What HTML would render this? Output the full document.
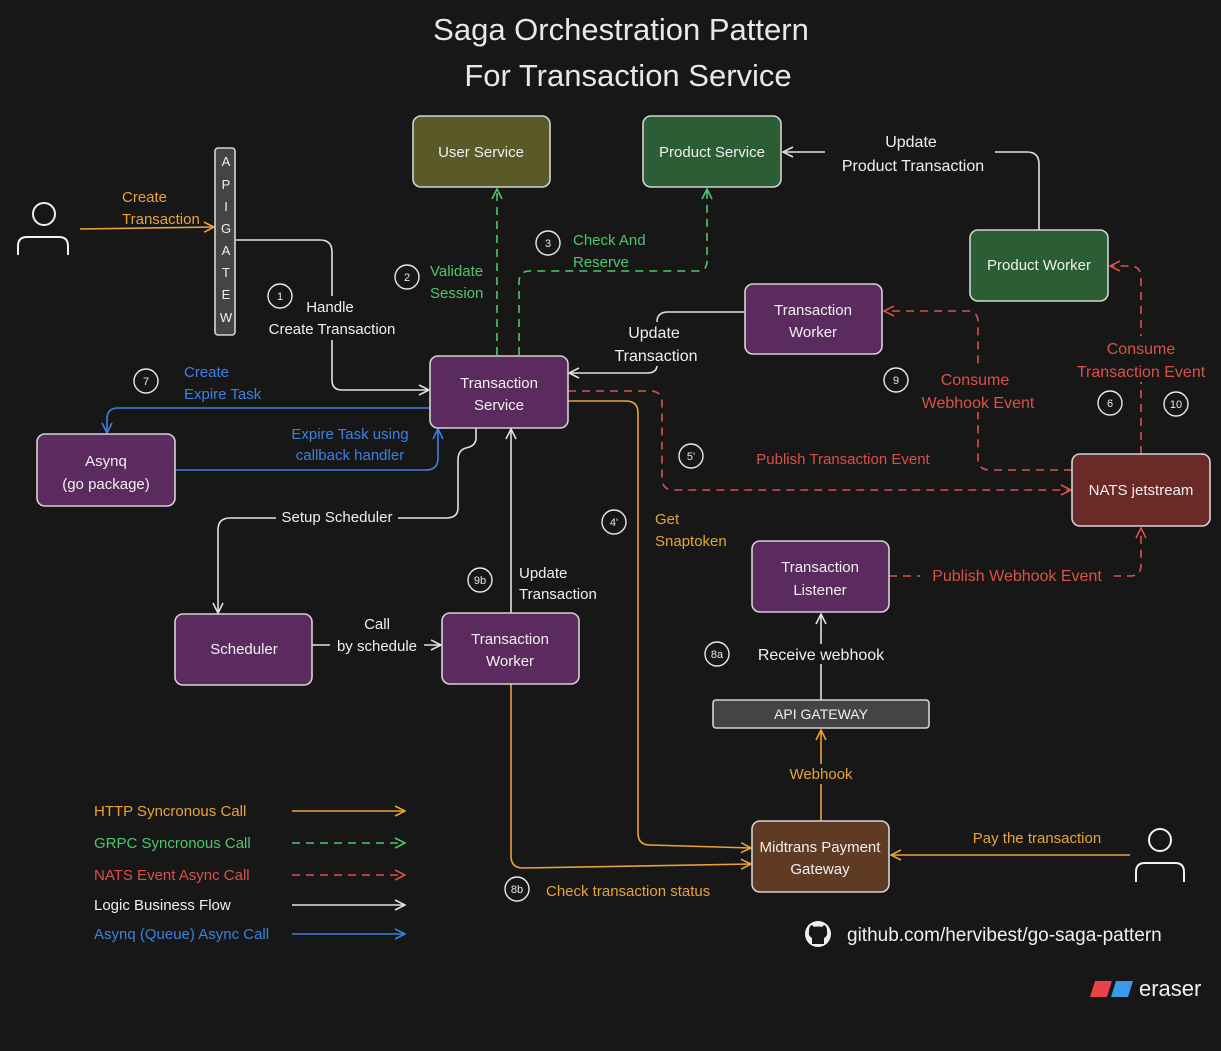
<!DOCTYPE html>
<html><head><meta charset="utf-8"><style>
html,body{margin:0;padding:0;background:#171717;}
svg{display:block;font-family:"Liberation Sans",sans-serif;}
</style></head><body>
<svg width="1221" height="1051" viewBox="0 0 1221 1051" xmlns="http://www.w3.org/2000/svg">
<defs>
<marker id="aw" viewBox="0 0 12 12" refX="11" refY="6" markerWidth="12" markerHeight="12" markerUnits="userSpaceOnUse" orient="auto"><path d="M1,1 L11,6 L1,11" fill="none" stroke="#e0e0e0" stroke-width="1.6"/></marker>
<marker id="ao" viewBox="0 0 12 12" refX="11" refY="6" markerWidth="12" markerHeight="12" markerUnits="userSpaceOnUse" orient="auto"><path d="M1,1 L11,6 L1,11" fill="none" stroke="#e8a33a" stroke-width="1.6"/></marker>
<marker id="ag" viewBox="0 0 12 12" refX="11" refY="6" markerWidth="12" markerHeight="12" markerUnits="userSpaceOnUse" orient="auto"><path d="M1,1 L11,6 L1,11" fill="none" stroke="#4ec76a" stroke-width="1.6"/></marker>
<marker id="ar" viewBox="0 0 12 12" refX="11" refY="6" markerWidth="12" markerHeight="12" markerUnits="userSpaceOnUse" orient="auto"><path d="M1,1 L11,6 L1,11" fill="none" stroke="#d9524a" stroke-width="1.6"/></marker>
<marker id="ab" viewBox="0 0 12 12" refX="11" refY="6" markerWidth="12" markerHeight="12" markerUnits="userSpaceOnUse" orient="auto"><path d="M1,1 L11,6 L1,11" fill="none" stroke="#3b82e0" stroke-width="1.6"/></marker>
</defs>

<g fill="#e8e8e8" font-size="31" text-anchor="middle">
<text x="621" y="40">Saga Orchestration Pattern</text>
<text x="628" y="86">For Transaction Service</text>
</g>

<g fill="none" stroke-width="1.6">
<path d="M80,229 L214,227" stroke="#e8a33a" marker-end="url(#ao)"/>
<path d="M235,240 L320,240 Q332,240 332,252 L332,380 Q332,390 342,390 L429,390" stroke="#e0e0e0" marker-end="url(#aw)"/>
<path d="M497,355 L497,189" stroke="#4ec76a" stroke-dasharray="8,6" marker-end="url(#ag)"/>
<path d="M519,355 L519,282 Q519,271 530,271 L697,271 Q707,271 707,261 L707,189" stroke="#4ec76a" stroke-dasharray="8,6" marker-end="url(#ag)"/>
<path d="M1039,230 L1039,164 Q1039,152 1027,152 L995,152" stroke="#e0e0e0"/>
<path d="M825,152 L783,152" stroke="#e0e0e0" marker-end="url(#aw)"/>
<path d="M745,312 L668,312 Q657,312 657,322" stroke="#e0e0e0"/>
<path d="M657,365 Q657,373 647,373 L569,373" stroke="#e0e0e0" marker-end="url(#aw)"/>
<path d="M568,391 L650,391 Q662,391 662,403 L662,478 Q662,490 674,490 L1071,490" stroke="#d9524a" stroke-dasharray="8,6" marker-end="url(#ar)"/>
<path d="M1072,470 L990,470 Q978,470 978,458 L978,322 Q978,311 967,311 L884,311" stroke="#d9524a" stroke-dasharray="8,6" marker-end="url(#ar)"/>
<path d="M1141,454 L1141,278 Q1141,266 1130,266 L1110,266" stroke="#d9524a" stroke-dasharray="8,6" marker-end="url(#ar)"/>
<path d="M889,576 L1130,576 Q1141,576 1141,565 L1141,528" stroke="#d9524a" stroke-dasharray="8,6" marker-end="url(#ar)"/>
<path d="M568,401 L626,401 Q638,401 638,413 L638,833 Q638,845 650,845 L751,848" stroke="#e8a33a" marker-end="url(#ao)"/>
<path d="M430,408 L118,408 Q107,408 107,419 L107,433" stroke="#3b82e0" marker-end="url(#ab)"/>
<path d="M175,470 L426,470 Q438,470 438,458 L438,429" stroke="#3b82e0" marker-end="url(#ab)"/>
<path d="M476,428 L476,438 Q476,446 466,448 Q458,450 458,460 L458,508 Q458,518 446,518 L230,518 Q218,518 218,530 L218,613" stroke="#e0e0e0" marker-end="url(#aw)"/>
<path d="M511,613 L511,429" stroke="#e0e0e0" marker-end="url(#aw)"/>
<path d="M312,645 L441,645" stroke="#e0e0e0" marker-end="url(#aw)"/>
<path d="M511,684 L511,856 Q511,868 523,868 L751,864" stroke="#e8a33a" marker-end="url(#ao)"/>
<path d="M821,700 L821,614" stroke="#e0e0e0" marker-end="url(#aw)"/>
<path d="M821,821 L821,730" stroke="#e8a33a" marker-end="url(#ao)"/>
<path d="M1130,855 L891,855" stroke="#e8a33a" marker-end="url(#ao)"/>
<path d="M292,811 L405,811" stroke="#e8a33a" marker-end="url(#ao)"/>
<path d="M292,843 L405,843" stroke="#4ec76a" stroke-dasharray="8,6" marker-end="url(#ag)"/>
<path d="M292,875 L405,875" stroke="#d9524a" stroke-dasharray="8,6" marker-end="url(#ar)"/>
<path d="M292,905 L405,905" stroke="#e0e0e0" marker-end="url(#aw)"/>
<path d="M292,934 L405,934" stroke="#3b82e0" marker-end="url(#ab)"/>
</g>

<g fill="#171717">
<rect x="276" y="508" width="122" height="18"/>
<rect x="330" y="612" width="94" height="44"/>
<rect x="750" y="644" width="142" height="20"/>
<rect x="780" y="764" width="82" height="20"/>
<rect x="610" y="322" width="95" height="44"/>
<rect x="291" y="296" width="108" height="44"/>
<rect x="920" y="566" width="194" height="20"/>
<rect x="1074" y="336" width="136" height="46"/>
<rect x="918" y="368" width="120" height="44"/>
</g>

<g stroke="#d4d4d4" stroke-width="1.6">
<rect x="413" y="116" width="137" height="71" rx="8" fill="#5a5a28"/>
<rect x="643" y="116" width="138" height="71" rx="8" fill="#2c5e35"/>
<rect x="970" y="230" width="138" height="71" rx="8" fill="#2c5e35"/>
<rect x="745" y="284" width="137" height="70" rx="8" fill="#5b2a5e"/>
<rect x="430" y="356" width="138" height="72" rx="8" fill="#5b2a5e"/>
<rect x="37" y="434" width="138" height="72" rx="8" fill="#5b2a5e"/>
<rect x="1072" y="454" width="138" height="72" rx="8" fill="#6a2a28"/>
<rect x="752" y="541" width="137" height="71" rx="8" fill="#5b2a5e"/>
<rect x="175" y="614" width="137" height="71" rx="8" fill="#5b2a5e"/>
<rect x="442" y="613" width="137" height="71" rx="8" fill="#5b2a5e"/>
<rect x="752" y="821" width="137" height="71" rx="8" fill="#5e3b22"/>
<rect x="713" y="700" width="216" height="28" rx="3" fill="#444"/>
<rect x="215" y="148" width="20" height="187" rx="3" fill="#444"/>
</g>

<g fill="none" stroke="#f0f0f0" stroke-width="2">
<circle cx="44" cy="214" r="11"/>
<path d="M18,255 L18,246 Q18,237 27,237 L59,237 Q68,237 68,246 L68,255"/>
<circle cx="1160" cy="840" r="11"/>
<path d="M1136,882 L1136,872 Q1136,863 1145,863 L1175,863 Q1184,863 1184,872 L1184,882"/>
</g>

<g fill="none" stroke="#e8e8e8" stroke-width="1.4">
<circle cx="280" cy="296" r="12"/><circle cx="407" cy="277" r="12"/><circle cx="548" cy="243" r="12"/>
<circle cx="146" cy="381" r="12"/><circle cx="896" cy="380" r="12"/><circle cx="1110" cy="403" r="12"/>
<circle cx="1176" cy="404" r="12"/><circle cx="691" cy="456" r="12"/><circle cx="614" cy="522" r="12"/>
<circle cx="480" cy="580" r="12"/><circle cx="717" cy="654" r="12"/><circle cx="517" cy="889" r="12"/>
</g>
<g fill="#e8e8e8" font-size="11" text-anchor="middle">
<text x="280" y="300">1</text><text x="407" y="281">2</text><text x="548" y="247">3</text>
<text x="146" y="385">7</text><text x="896" y="384">9</text><text x="1110" y="407">6</text>
<text x="1176" y="408">10</text><text x="691" y="460">5'</text><text x="614" y="526">4'</text>
<text x="480" y="584">9b</text><text x="717" y="658">8a</text><text x="517" y="893">8b</text>
</g>

<g fill="#f0f0f0" font-size="15" text-anchor="middle">
<text x="481" y="157">User Service</text>
<text x="712" y="157">Product Service</text>
<text x="1039" y="270">Product Worker</text>
<text x="813" y="315">Transaction</text><text x="813" y="337">Worker</text>
<text x="499" y="388">Transaction</text><text x="499" y="410">Service</text>
<text x="106" y="466">Asynq</text><text x="106" y="489">(go package)</text>
<text x="1141" y="495">NATS jetstream</text>
<text x="820" y="572">Transaction</text><text x="820" y="595">Listener</text>
<text x="244" y="654">Scheduler</text>
<text x="510" y="644">Transaction</text><text x="510" y="666">Worker</text>
<text x="820" y="852">Midtrans Payment</text><text x="820" y="874">Gateway</text>
<text x="821" y="719" font-size="14">API GATEWAY</text>
<g font-size="13"><text x="226" y="166">A</text><text x="226" y="189">P</text><text x="226" y="211">I</text><text x="226" y="233">G</text><text x="226" y="255">A</text><text x="226" y="277">T</text><text x="226" y="299">E</text><text x="226" y="322">W</text></g>
</g>

<g font-size="15">
<g fill="#e8a33a"><text x="122" y="202">Create</text><text x="122" y="224">Transaction</text>
<text x="655" y="524">Get</text><text x="655" y="546">Snaptoken</text>
<text x="546" y="896">Check transaction status</text>
<text x="821" y="779" text-anchor="middle">Webhook</text>
<text x="1037" y="843" text-anchor="middle">Pay the transaction</text></g>
<g fill="#4ec76a"><text x="430" y="276">Validate</text><text x="430" y="298">Session</text>
<text x="573" y="245">Check And</text><text x="573" y="267">Reserve</text></g>
<g fill="#f0f0f0" text-anchor="middle"><text x="330" y="312">Handle</text><text x="332" y="334">Create Transaction</text>
<text x="911" y="147" font-size="16">Update</text><text x="913" y="171" font-size="16">Product Transaction</text>
<text x="654" y="338" font-size="16">Update</text><text x="656" y="361" font-size="16">Transaction</text>
<text x="337" y="522">Setup Scheduler</text>
<text x="377" y="629">Call</text><text x="377" y="651">by schedule</text>
<text x="821" y="660" font-size="16">Receive webhook</text></g>
<g fill="#f0f0f0"><text x="519" y="578">Update</text><text x="519" y="599">Transaction</text></g>
<g fill="#d9524a" text-anchor="middle"><text x="843" y="464">Publish Transaction Event</text>
<text x="975" y="385" font-size="16">Consume</text><text x="978" y="408" font-size="16">Webhook Event</text>
<text x="1141" y="354" font-size="16">Consume</text><text x="1141" y="377" font-size="16">Transaction Event</text>
<text x="1017" y="581" font-size="16">Publish Webhook Event</text></g>
<g fill="#3b82e0"><text x="184" y="377">Create</text><text x="184" y="399">Expire Task</text>
<text x="350" y="439" text-anchor="middle">Expire Task using</text><text x="350" y="460" text-anchor="middle">callback handler</text></g>
</g>

<g font-size="15">
<text x="94" y="816" fill="#e8a33a">HTTP Syncronous Call</text>
<text x="94" y="848" fill="#4ec76a">GRPC  Syncronous Call</text>
<text x="94" y="880" fill="#d9524a">NATS Event Async Call</text>
<text x="94" y="910" fill="#f0f0f0">Logic Business Flow</text>
<text x="94" y="939" fill="#3b82e0">Asynq (Queue) Async Call</text>
</g>

<circle cx="818" cy="934" r="13" fill="#f0f0f0"/>
<path d="M812,944 L812,938 Q808,936 809,931 Q809,926 812,925 L814,927 Q818,926 822,927 L824,925 Q827,926 827,931 Q828,936 824,938 L824,944 Z" fill="#171717"/>
<text x="847" y="941" fill="#f0f0f0" font-size="19">github.com/hervibest/go-saga-pattern</text>

<path d="M1095,981 L1112,981 L1107,997 L1090,997 Z" fill="#e8424a"/>
<path d="M1116,981 L1133,981 L1128,997 L1111,997 Z" fill="#3b9be8"/>
<text x="1139" y="996" fill="#f0f0f0" font-size="22">eraser</text>
</svg>
</body></html>
